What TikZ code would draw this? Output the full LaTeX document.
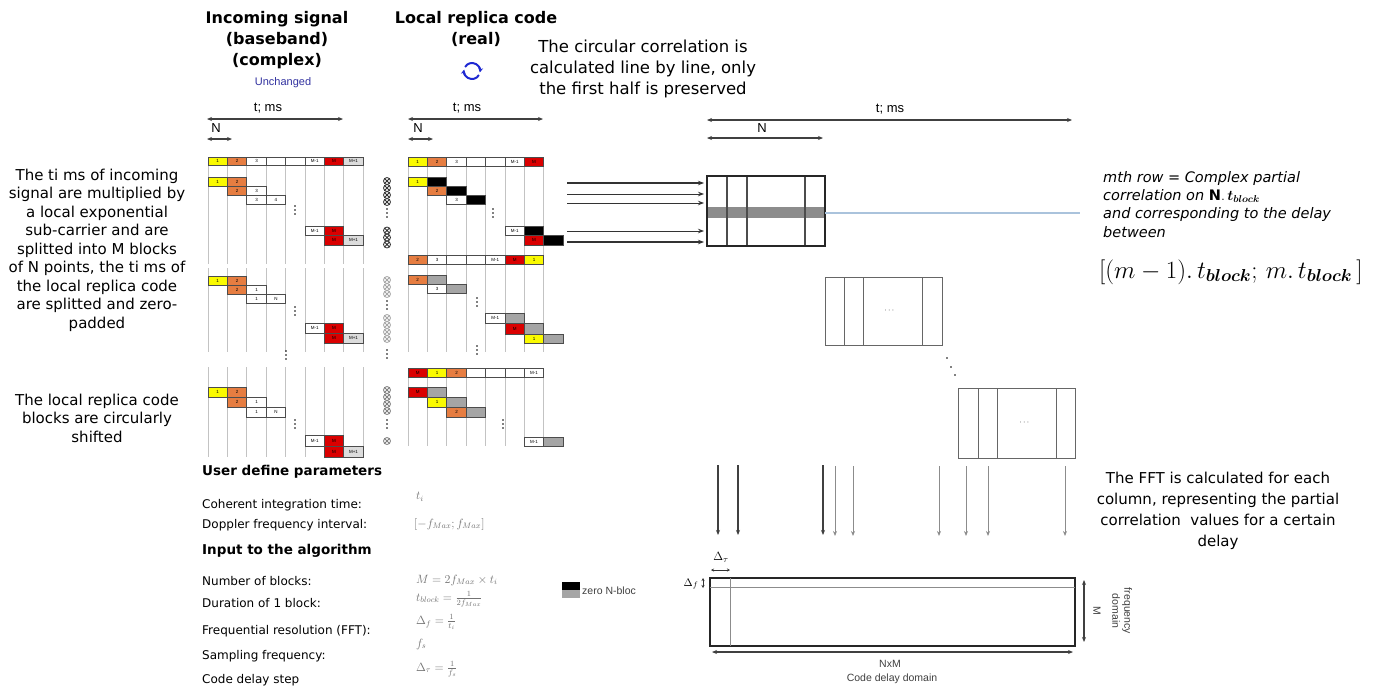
\documentclass[tikz,border=0pt]{standalone}
\usepackage{amsmath}
\usepackage{fontspec}
\setmainfont{DejaVu Sans}
\newfontfamily\libsans{Liberation Sans}
\usetikzlibrary{arrows.meta}
\definecolor{cyel}{RGB}{250,250,0}
\definecolor{cora}{RGB}{230,125,65}
\definecolor{cred}{RGB}{218,0,0}
\definecolor{cgry}{RGB}{165,165,165}
\definecolor{clg}{RGB}{220,220,220}
\definecolor{cvl}{RGB}{195,195,195}
\definecolor{cblu}{RGB}{30,40,210}
\definecolor{cnavy}{RGB}{50,50,160}
\definecolor{cmath}{RGB}{115,115,115}
\definecolor{cband}{RGB}{140,140,140}
\definecolor{cbl}{RGB}{170,195,220}
\newcommand\cel[6]{%
  \filldraw[cellbox,fill=#5] ({#1+19.4*#2},#3) rectangle ({#1+19.4*#2+19.4},{#3+#4});
  \node[celltxt] at ({#1+19.4*#2+9.7},{#3+#4/2}) {#6};}
\newcommand\vls[4]{\foreach \i in {0,...,#2}{\draw[vline] ({#1+19.4*\i},#3) -- ({#1+19.4*\i},#4);}}
\newcommand\vdt[2]{\foreach \k in {0,1,2}{\fill ({#1},{#2+\k*4}) circle (0.9);}}
\newcommand\otm[3]{\draw[#3,line width=0.8] (#1,#2) circle (3.5) ({#1-2.5},{#2-2.5}) -- ({#1+2.5},{#2+2.5}) ({#1-2.5},{#2+2.5}) -- ({#1+2.5},{#2-2.5});}
\begin{document}
\begin{tikzpicture}[x=1pt,y=-1pt,
  cellbox/.style={draw=black!70,line width=0.7},
  celltxt/.style={font=\libsans\fontsize{4.5}{5}\selectfont,inner sep=0pt},
  vline/.style={draw=cvl,line width=0.8},
  taxis/.style={draw=black!75,line width=1.1,{Stealth[length=5pt,width=4pt]}-{Stealth[length=5pt,width=4pt]}},
  hdr/.style={font=\bfseries\fontsize{16}{21}\selectfont,align=center,inner sep=0pt},
  bodytxt/.style={font=\fontsize{15}{18.5}\selectfont,align=center,inner sep=0pt},
  lbl/.style={font=\libsans\fontsize{13}{15}\selectfont,inner sep=0pt},
  prm/.style={font=\fontsize{12}{14}\selectfont,anchor=west,inner sep=0pt},
  prmb/.style={font=\bfseries\fontsize{13.5}{15}\selectfont,anchor=west,inner sep=0pt},
  mth/.style={text=cmath,anchor=west,inner sep=0pt,font=\fontsize{11.5}{13}\selectfont},
  itx/.style={font=\itshape\fontsize{14.5}{16}\selectfont,anchor=west,inner sep=0pt},
  harr/.style={draw=black!80,-{Stealth[length=6pt,width=4.5pt]}},
  varr/.style={-{Stealth[length=5pt,width=4pt]}},
  mbox/.style={draw=black!85,line width=1.4},
  mline/.style={draw=black!70,line width=1.1},
  small/.style={font=\libsans\fontsize{10.5}{12}\selectfont,text=black!75,inner sep=0pt},
]
\useasboundingbox (0,0) rectangle (1379,689);
\fill[white] (0,0) rectangle (1379,689);

% ---------- headers ----------
\node[hdr] (h1) at (277,40) {Incoming signal\\(baseband)\\(complex)};
\node[hdr] (h2) at (476,29) {Local replica code\\(real)};
\node[font=\libsans\fontsize{11}{13}\selectfont,text=cnavy,inner sep=0pt] (unch) at (283,83) {Unchanged};
\draw[cblu,line width=2,-{Stealth[length=4.5pt,width=5pt]}] (472,71) ++(30:8) arc[start angle=30,end angle=190,radius=8];
\draw[cblu,line width=2,-{Stealth[length=4.5pt,width=5pt]}] (472,71) ++(210:8) arc[start angle=210,end angle=370,radius=8];
\node[font=\fontsize{16.5}{21}\selectfont,align=center,inner sep=0pt] (circ) at (643,69) {The circular correlation is\\calculated line by line, only\\the first half is preserved};

% ---------- axes ----------
\coordinate (a1l) at (207,119); \coordinate (a1r) at (343,119);
\draw[taxis] (a1l) -- (a1r);
\node[lbl] (t1) at (268,108) {t; ms};
\node[lbl] (n1) at (216,128) {N};
\coordinate (n1l) at (207,139); \coordinate (n1r) at (232,139);
\draw[taxis] (n1l) -- (n1r);
\coordinate (a2l) at (408,119); \coordinate (a2r) at (543,119);
\draw[taxis] (a2l) -- (a2r);
\node[lbl] (t2) at (467,108) {t; ms};
\node[lbl] (n2) at (418,128) {N};
\coordinate (n2l) at (408,139); \coordinate (n2r) at (433,139);
\draw[taxis] (n2l) -- (n2r);
\coordinate (a3l) at (707,120); \coordinate (a3r) at (1072,120);
\draw[taxis] (a3l) -- (a3r);
\node[lbl] (t3) at (890,109) {t; ms};
\coordinate (n3l) at (707,138); \coordinate (n3r) at (823,138);
\draw[taxis] (n3l) -- (n3r);
\node[lbl] (n3) at (762,128) {N};

% ---------- left texts ----------
\node[bodytxt] (lt1) at (97,250) {The ti ms of incoming\\signal are multiplied by\\a local exponential\\sub-carrier and are\\splitted into M blocks\\of N points, the ti ms of\\the local replica code\\are splitted and zero-\\padded};
\node[bodytxt] (lt2) at (97,418) {The local replica code\\blocks are circularly\\shifted};

% ---------- incoming panel ----------
\vls{208}{8}{165.5}{264}
\cel{208}{0}{157}{8.5}{cyel}{1}
\cel{208}{1}{157}{8.5}{cora}{2}
\cel{208}{2}{157}{8.5}{white}{3}
\cel{208}{3}{157}{8.5}{white}{}
\cel{208}{4}{157}{8.5}{white}{}
\cel{208}{5}{157}{8.5}{white}{M-1}
\cel{208}{6}{157}{8.5}{cred}{M}
\cel{208}{7}{157}{8.5}{clg}{M+1}
\cel{208}{0}{177}{9}{cyel}{1}
\cel{208}{1}{177}{9}{cora}{2}
\cel{208}{1}{186}{9}{cora}{2}
\cel{208}{2}{186}{9}{white}{3}
\cel{208}{2}{195}{9}{white}{3}
\cel{208}{3}{195}{9}{white}{4}
\vdt{295}{206}
\cel{208}{5}{226}{9}{white}{M-1}
\cel{208}{6}{226}{9}{cred}{M}
\cel{208}{6}{235}{10}{cred}{M}
\cel{208}{7}{235}{10}{clg}{M+1}

\vls{208}{8}{268}{352}
\cel{208}{0}{276}{9}{cyel}{1}
\cel{208}{1}{276}{9}{cora}{2}
\cel{208}{1}{285}{9}{cora}{2}
\cel{208}{2}{285}{9}{white}{1}
\cel{208}{2}{294}{9}{white}{1}
\cel{208}{3}{294}{9}{white}{N}
\vdt{295}{307}
\cel{208}{5}{323}{10}{white}{M-1}
\cel{208}{6}{323}{10}{cred}{M}
\cel{208}{6}{333}{10}{cred}{M}
\cel{208}{7}{333}{10}{clg}{M+1}
\vdt{286}{351}

\vls{208}{8}{367}{457}
\cel{208}{0}{387}{10}{cyel}{1}
\cel{208}{1}{387}{10}{cora}{2}
\cel{208}{1}{397}{10}{cora}{2}
\cel{208}{2}{397}{10}{white}{1}
\cel{208}{2}{407}{10}{white}{1}
\cel{208}{3}{407}{10}{white}{N}
\vdt{295}{420}
\cel{208}{5}{435}{11}{white}{M-1}
\cel{208}{6}{435}{11}{cred}{M}
\cel{208}{6}{446}{11}{cred}{M}
\cel{208}{7}{446}{11}{clg}{M+1}

% ---------- multiply column ----------
\foreach \y in {181,188,195,202,230.5,237.5,244.5}{\otm{387}{\y}{black!80}}
\vdt{387}{209}
\foreach \y in {280,287,294,318,325,332,339}{\otm{387}{\y}{black!35}}
\vdt{387}{301}\vdt{387}{350}
\foreach \y in {390,397,404,411,441}{\otm{387}{\y}{black!50}}
\vdt{387}{420}

% ---------- local replica panel ----------
\vls{408}{7}{166}{256}
\cel{408}{0}{157}{9}{cyel}{1}
\cel{408}{1}{157}{9}{cora}{2}
\cel{408}{2}{157}{9}{white}{3}
\cel{408}{3}{157}{9}{white}{}
\cel{408}{4}{157}{9}{white}{}
\cel{408}{5}{157}{9}{white}{M-1}
\cel{408}{6}{157}{9}{cred}{M}
\cel{408}{0}{177}{9}{cyel}{1}
\cel{408}{1}{177}{9}{black}{}
\cel{408}{1}{186}{9}{cora}{2}
\cel{408}{2}{186}{9}{black}{}
\cel{408}{2}{195}{9}{white}{3}
\cel{408}{3}{195}{9}{black}{}
\vdt{493}{209}
\cel{408}{5}{226}{9}{white}{M-1}
\cel{408}{6}{226}{9}{black}{}
\cel{408}{6}{235}{10}{cred}{M}
\cel{408}{7}{235}{10}{black}{}

\vls{408}{7}{265}{352}
\cel{408}{0}{255.5}{9}{cora}{2}
\cel{408}{1}{255.5}{9}{white}{3}
\cel{408}{2}{255.5}{9}{white}{}
\cel{408}{3}{255.5}{9}{white}{}
\cel{408}{4}{255.5}{9}{white}{M-1}
\cel{408}{5}{255.5}{9}{cred}{M}
\cel{408}{6}{255.5}{9}{cyel}{1}
\cel{408}{0}{275}{9}{cora}{2}
\cel{408}{1}{275}{9}{cgry}{}
\cel{408}{1}{284}{9}{white}{3}
\cel{408}{2}{284}{9}{cgry}{}
\vdt{477}{298}
\cel{408}{4}{313}{10}{white}{M-1}
\cel{408}{5}{313}{10}{cgry}{}
\cel{408}{5}{323}{11}{cred}{M}
\cel{408}{6}{323}{11}{cgry}{}
\cel{408}{6}{334}{9}{cyel}{1}
\cel{408}{7}{334}{9}{cgry}{}
\vdt{477}{346}

\vls{408}{7}{377}{446}
\cel{408}{0}{368}{9}{cred}{M}
\cel{408}{1}{368}{9}{cyel}{1}
\cel{408}{2}{368}{9}{cora}{2}
\cel{408}{3}{368}{9}{white}{}
\cel{408}{4}{368}{9}{white}{}
\cel{408}{5}{368}{9}{white}{}
\cel{408}{6}{368}{9}{white}{M-1}
\cel{408}{0}{387}{10}{cred}{M}
\cel{408}{1}{387}{10}{cgry}{}
\cel{408}{1}{397}{10}{cyel}{1}
\cel{408}{2}{397}{10}{cgry}{}
\cel{408}{2}{407}{10}{cora}{2}
\cel{408}{3}{407}{10}{cgry}{}
\vdt{503}{420}
\cel{408}{6}{437}{9}{white}{M-1}
\cel{408}{7}{437}{9}{cgry}{}

% ---------- legend ----------
\fill[black] (562,582) rectangle (580,590);
\fill[cgry] (562,590) rectangle (580,598);
\node[small,anchor=west] (leg) at (582,591) {zero N-bloc};

% ---------- correlation matrices ----------
\node[inner sep=0pt,minimum width=117pt,minimum height=70pt,draw=none] (m1) at (766,211) {};
\fill[cband] (707,207) rectangle (825,218);
\draw[mline] (727,176) -- (727,246) (747,176) -- (747,246) (805,176) -- (805,246);
\draw[mbox] (707,176) rectangle (825,246);
\coordinate (bl) at (1080,213);
\draw[cbl,line width=1.5] (825,213) -- (bl);
\foreach \y/\w in {183/1.8,194/1,203/1,231/1,242/1.8}{
  \coordinate (s\y) at (567,\y); \coordinate (e\y) at (704,\y);
  \draw[harr,line width=\w] (s\y) -- (e\y);}

\draw[black!60,line width=1] (825,277) rectangle (942,345);
\draw[black!60,line width=1] (844,277) -- (844,345) (863,277) -- (863,345) (922,277) -- (922,345);
\node[font=\bfseries\fontsize{8}{8}\selectfont,inner sep=0pt] (d2) at (890,311) {$\cdots$};
\fill (947,358) circle (0.9) (951,367) circle (0.9) (955,375) circle (0.9);
\draw[black!60,line width=1] (958,388) rectangle (1075,458);
\draw[black!60,line width=1] (978,388) -- (978,458) (997,388) -- (997,458) (1056,388) -- (1056,458);
\node[font=\bfseries\fontsize{8}{8}\selectfont,inner sep=0pt] (d3) at (1025,423) {$\cdots$};

% ---------- right texts ----------
\node[itx] (r1) at (1103,178) {mth row = Complex partial};
\node[itx] (r2) at (1103,196) {correlation on $\mathbf{N}.\,\boldsymbol{t_{block}}$};
\node[itx] (r3) at (1103,214) {and corresponding to the delay};
\node[itx] (r4) at (1103,232) {between};
\node[anchor=west,inner sep=0pt,font=\fontsize{24}{26}\selectfont] (r5) at (1099,272) {$[(m-1).\,t_{\boldsymbol{block}};\,m.\,t_{\boldsymbol{block}}\,]$};
\node[bodytxt,font=\fontsize{15}{21}\selectfont] (fft) at (1218,511) {The FFT is calculated for each\\column, representing the partial\\correlation\ \ values for a certain\\delay};

% ---------- FFT arrows ----------
\foreach \x in {718,738,823}{\coordinate (u\x) at (\x,465); \coordinate (v\x) at (\x,535); \draw[varr,line width=2,draw=black!75] (u\x) -- (v\x);}
\foreach \x in {835,853,939,966,988,1065}{\coordinate (u\x) at (\x,466); \coordinate (v\x) at (\x,536); \draw[varr,line width=0.9,draw=black!45] (u\x) -- (v\x);}

% ---------- FFT matrix ----------
\draw[mbox] (710,578) rectangle (1075,646);
\draw[black!45,line width=0.6] (710,587) -- (1075,587) (730,578) -- (730,646);
\node[font=\fontsize{13}{13}\selectfont,inner sep=0pt] (dtau) at (721,557) {$\Delta_\tau$};
\draw[black!80,line width=1,{Stealth[length=3pt,width=3pt]}-{Stealth[length=3pt,width=3pt]}] (711,570) -- (730,570);
\node[font=\fontsize{11}{11}\selectfont,inner sep=0pt] (df) at (691,584) {$\Delta_f$};
\draw[black!80,line width=1,{Stealth[length=3pt,width=3pt]}-{Stealth[length=3pt,width=3pt]}] (703,578) -- (703,588);
\draw[taxis] (1084,580) -- (1084,642);
\node[small,rotate=-90] (mlab) at (1097,611) {M};
\node[small,rotate=-90,align=center] (fd) at (1122,611) {frequency\\domain};
\draw[taxis] (712,652) -- (1073,652);
\node[small] (nxm) at (890,664) {NxM};
\node[small] (cdd) at (892,679) {Code delay domain};

% ---------- parameters ----------
\node[prmb] (p0) at (202,472) {User define parameters};
\node[prm] (p1) at (202,505) {Coherent integration time:};
\node[prm] (p2) at (202,525) {Doppler frequency interval:};
\node[prmb] (p3) at (202,551) {Input to the algorithm};
\node[prm] (p4) at (202,581) {Number of blocks:};
\node[prm] (p5) at (202,603) {Duration of 1 block:};
\node[prm] (p6) at (202,631) {Frequential resolution (FFT):};
\node[prm] (p7) at (202,656) {Sampling frequency:};
\node[prm] (p8) at (202,680) {Code delay step};
\node[mth] (q1) at (416,497) {$t_i$};
\node[mth] (q2) at (414,524) {$[-f_{Max}; f_{Max}]$};
\node[mth] (q3) at (416,580) {$M=2f_{Max}\times t_i$};
\node[mth] (q4) at (416,599) {$t_{block}=\frac{1}{2f_{Max}}$};
\node[mth] (q5) at (416,622) {$\Delta_f=\frac{1}{t_i}$};
\node[mth] (q6) at (416,644) {$f_s$};
\node[mth] (q7) at (416,669) {$\Delta_\tau=\frac{1}{f_s}$};
\end{tikzpicture}
\end{document}
